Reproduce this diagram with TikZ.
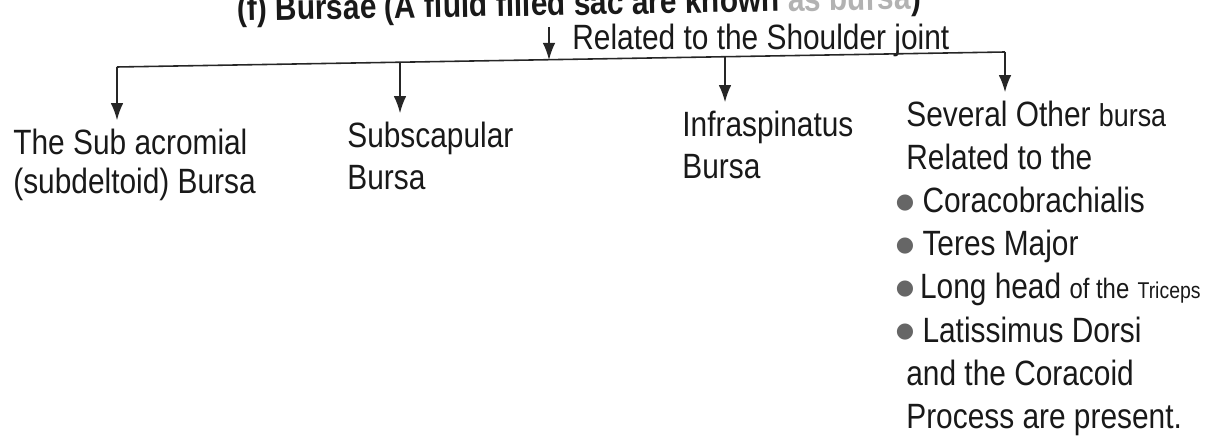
\documentclass[tikz,border=0pt]{standalone}
\usepackage{fontspec}
\setmainfont{Liberation Sans}[FakeStretch=0.85]
\newfontfamily\dotfont{DejaVu Sans}
\usepackage{tikz}
\usetikzlibrary{positioning,arrows.meta}

\newcommand{\blob}{\kern-6pt\raisebox{2.5pt}{\dotfont\fontsize{12}{12}\selectfont\color{black!60}●}}

\begin{document}
\begin{tikzpicture}[
        x=0.02cm, y=-0.02cm,
        lbl/.style = {anchor=north west, align=left, inner sep=0pt, text=black!90,
                      font=\fontsize{20}{24}\selectfont},
        arr/.style = {-{Latex[length=3.4mm,width=2.5mm]}, line width=0.9pt, black!85},
        bus/.style = {line width=0.9pt, black!85}
    ]
        \useasboundingbox (0,0) rectangle (1215,445);
        % heading and the joint it refers to
        \node[lbl, anchor=base west, font=\bfseries\fontsize{20}{24}\selectfont, rotate=1] (title) at (237,21)
            {(f) Bursae (A fluid filled sac are known {\color{black!30}as bursa})};
        \node[lbl, anchor=base west] (joint) at (572,50) {Related to the Shoulder joint};
        % the four groups of bursae
        \node[lbl, font=\fontsize{20}{22}\selectfont] (subacr) at (13,129) {The Sub acromial\\(subdeltoid) Bursa};
        \node[lbl] (subscap) at (347,122) {Subscapular\\Bursa};
        \node[lbl] (infra) at (682,111) {Infraspinatus\\Bursa};
        \node[lbl, font=\fontsize{20}{24.5}\selectfont] (other) at (906,101)
            {Several Other {\fontsize{18}{24.5}\selectfont bursa}\\
             Related to the\\
             \blob\ Coracobrachialis\\
             \blob\ Teres Major\\
             \blob\,Long head {\fontsize{16}{24.5}\selectfont of the} {\fontsize{13}{24.5}\selectfont Triceps}\\
             \blob\ Latissimus Dorsi\\
             and the Coracoid\\
             Process are present.};
        % branching line
        \coordinate (top) at (549,27);
        \coordinate (b1) at (117,67);
        \coordinate (b2) at (400,62);
        \coordinate (b0) at (549,60);
        \coordinate (b3) at (725,57);
        \coordinate (b4) at (1005,52);
        \draw[bus] (b1) -- (b4);
        \draw[arr] (top) -- (b0);
        \draw[arr, shorten >=5pt] (b1) -- (b1 |- subacr.north);
        \draw[arr, shorten >=5pt] (b2) -- (b2 |- subscap.north);
        \draw[arr, shorten >=5pt] (b3) -- (b3 |- infra.north);
        \draw[arr, shorten >=5pt] (b4) -- (b4 |- other.north);
    \end{tikzpicture}
\end{document}
